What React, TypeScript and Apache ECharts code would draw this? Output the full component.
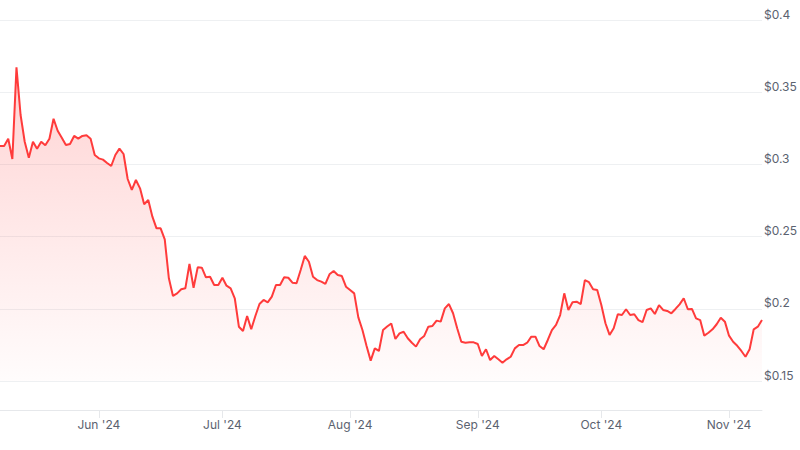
import React, { useEffect, useRef } from "react";
import * as echarts from "echarts";

// Daily closing prices (USD), starting 2024-05-08
const mayPrices = [
  0.3127, 0.3127, 0.3178, 0.3037, 0.3672, 0.3342, 0.3157, 0.3046, 0.3157, 0.3109, 0.3157, 0.3132,
  0.3178, 0.3316, 0.3233, 0.3185, 0.3134, 0.3141, 0.3197, 0.3178, 0.3197, 0.3202, 0.3178, 0.3065,
];
const junPrices = [
  0.3042, 0.3033, 0.301, 0.2989, 0.3065, 0.3109, 0.3072, 0.2899, 0.2823, 0.2892, 0.2834, 0.2724,
  0.2753, 0.2638, 0.2557, 0.2557, 0.2481, 0.2211, 0.2089, 0.2107, 0.2135, 0.2142, 0.231, 0.2146,
  0.2287, 0.2285, 0.2218, 0.2222, 0.2165, 0.2165,
];
const julPrices = [
  0.2215, 0.216, 0.2142, 0.2073, 0.1876, 0.1846, 0.195, 0.1858, 0.195, 0.2033, 0.2061, 0.2045,
  0.2084, 0.2165, 0.2165, 0.2218, 0.2215, 0.2181, 0.2177, 0.2269, 0.2366, 0.2326, 0.2222, 0.2199,
  0.2188, 0.2172, 0.2239, 0.2262, 0.2234, 0.2227, 0.2153,
];
const augPrices = [
  0.213, 0.2107, 0.1941, 0.1853, 0.1742, 0.1641, 0.1726, 0.1708, 0.1853, 0.1877, 0.1898, 0.1791,
  0.183, 0.1841, 0.1796, 0.1765, 0.1738, 0.1789, 0.1812, 0.1876, 0.1881, 0.1918, 0.1911, 0.2003,
  0.2033, 0.1969, 0.1865, 0.1772, 0.1765, 0.1768, 0.1768,
];
const sepPrices = [
  0.1756, 0.1673, 0.172, 0.1645, 0.1673, 0.165, 0.1627, 0.165, 0.1668, 0.1726, 0.1749, 0.1749,
  0.1765, 0.1807, 0.1807, 0.1742, 0.172, 0.1784, 0.1853, 0.1888, 0.1957, 0.2107, 0.1992, 0.2045,
  0.2049, 0.2033, 0.2199, 0.2184, 0.2135, 0.213,
];
const octPrices = [
  0.2026, 0.19, 0.1819, 0.1865, 0.1962, 0.1957, 0.1997, 0.1957, 0.1962, 0.1922, 0.1907, 0.1992,
  0.2003, 0.1964, 0.2026, 0.1992, 0.1985, 0.1969, 0.1999, 0.2031, 0.2073, 0.1997, 0.1999, 0.1934,
  0.1922, 0.1814, 0.1834, 0.1858, 0.1893, 0.1938, 0.1911,
];
const novPrices = [0.1814, 0.1772, 0.1744, 0.1708, 0.1668, 0.172, 0.1858, 0.1876, 0.1922];

const startDate = "2024-05-08";
const monthNames = ["Jan", "Feb", "Mar", "Apr", "May", "Jun", "Jul", "Aug", "Sep", "Oct", "Nov", "Dec"];
const yearSuffix = "'24";

const prices = [
  ...mayPrices,
  ...junPrices,
  ...julPrices,
  ...augPrices,
  ...sepPrices,
  ...octPrices,
  ...novPrices,
];

const startMs = Date.parse(startDate + "T00:00:00Z");
const dates = prices.map((_, i) => new Date(startMs + i * 86400000).toISOString().slice(0, 10));

const isMonthStart = (_idx: number, val: string) => val.endsWith("-01");

export default function App() {
  const ref = useRef<HTMLDivElement>(null);

  useEffect(() => {
    if (!ref.current) return;
    const chart = echarts.init(ref.current, null, { renderer: "svg" });
    const font = "Inter, 'Noto Sans', sans-serif";
    chart.setOption({
      animation: false,
      backgroundColor: "#ffffff",
      grid: { left: 0, right: 36, top: 20, bottom: 69, containLabel: false },
      xAxis: {
        type: "category",
        data: dates,
        boundaryGap: false,
        offset: 29,
        axisLine: { show: true, lineStyle: { color: "#e6e8eb", width: 1 } },
        axisTick: {
          show: true,
          interval: isMonthStart,
          length: 8,
          lineStyle: { color: "#e6e8eb" },
        },
        axisLabel: {
          interval: isMonthStart,
          margin: 8,
          color: "#5b6270",
          fontSize: 12,
          fontFamily: font,
          formatter: (val: string) => {
            const m = parseInt(val.slice(5, 7), 10) - 1;
            return `${monthNames[m]} ${yearSuffix}`;
          },
        },
        splitLine: { show: false },
      },
      yAxis: {
        type: "value",
        position: "right",
        min: 0.15,
        max: 0.4,
        interval: 0.05,
        axisLine: { show: false },
        axisTick: { show: false },
        splitLine: { show: true, lineStyle: { color: "#eef0f2", width: 1 } },
        axisLabel: {
          margin: 2,
          align: "left",
          verticalAlign: "bottom",
          color: "#5b6270",
          fontSize: 12,
          fontFamily: font,
          formatter: (v: number) => "$" + parseFloat(v.toFixed(2)).toString(),
        },
      },
      series: [
        {
          type: "line",
          data: prices,
          showSymbol: false,
          symbol: "none",
          smooth: false,
          lineStyle: { color: "#ff3b3b", width: 2 },
          areaStyle: {
            color: new echarts.graphic.LinearGradient(0, 0, 0, 1, [
              { offset: 0, color: "rgba(255, 59, 59, 0.32)" },
              { offset: 1, color: "rgba(255, 59, 59, 0.02)" },
            ]),
          },
        },
      ],
    });
    return () => chart.dispose();
  }, []);

  return (
    <div
      ref={ref}
      style={{ position: "fixed", left: 0, top: 0, width: 800, height: 450, background: "#fff" }}
    />
  );
}
